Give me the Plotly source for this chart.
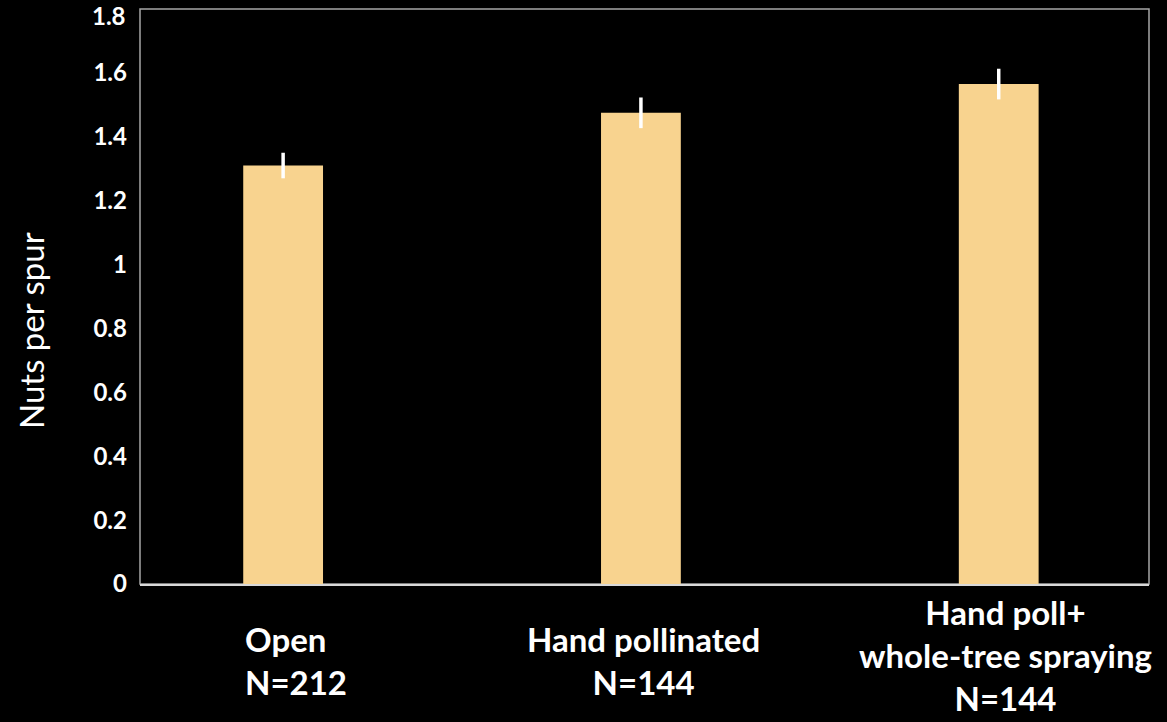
import plotly.graph_objects as go

# Nuts per spur by pollination treatment
categories = ["Open", "Hand pollinated", "Hand poll+ whole-tree spraying"]
label_lines = [
    ["Open", "N=212"],
    ["Hand pollinated", "N=144"],
    ["Hand poll+", "whole-tree spraying", "N=144"],
]
nuts_per_spur = [1.31, 1.475, 1.565]
std_error = [0.04, 0.048, 0.048]
y_ticks = [0, 0.2, 0.4, 0.6, 0.8, 1, 1.2, 1.4, 1.6, 1.8]
y_tick_text = ["0", "0.2", "0.4", "0.6", "0.8", "1", "1.2", "1.4", "1.6", "1.8"]

BAR_COLOR = "#F8D38F"
FONT = "Lato"
Y_MAX = y_ticks[-1]

fig = go.Figure(
    go.Bar(
        x=list(range(len(categories))),
        y=nuts_per_spur,
        width=0.223,
        marker=dict(color=BAR_COLOR, line=dict(width=0)),
        error_y=dict(type="data", array=std_error, visible=True,
                     color="white", thickness=3.5, width=0),
        hoverinfo="skip",
    )
)

# plot-area frame (grey), x axis line drawn brighter on top of it
fig.add_shape(type="rect", xref="paper", yref="paper", x0=0, y0=0, x1=1, y1=1,
              line=dict(color="#A6A6A6", width=1.5), layer="below")

# category labels under the bars
label_style = [
    dict(align="left", xshift=13, yshift=-76),
    dict(align="center", xshift=3, yshift=-76),
    dict(align="center", xshift=7, yshift=-71),
]
for i, (lines, st) in enumerate(zip(label_lines, label_style)):
    fig.add_annotation(
        x=i, xref="x", y=0, yref="paper",
        xshift=st["xshift"], yshift=st["yshift"],
        text="<br>".join(f"<b>{t}</b>" for t in lines),
        align=st["align"], showarrow=False,
        xanchor="center", yanchor="middle",
        font=dict(family=FONT, size=33, color="white"),
    )

# top tick label sits at the upper edge of the frame; nudge it inside the page
tick_font = dict(family=FONT, size=24, color="white")
fig.add_annotation(
    x=0, xref="paper", xshift=-12, xanchor="right",
    y=Y_MAX, yref="y", yshift=-6, yanchor="middle",
    text=f"<b>{y_tick_text[-1]}</b>", showarrow=False, font=tick_font,
)

# y-axis title
fig.add_annotation(
    text="Nuts per spur", textangle=-90, showarrow=False,
    xref="paper", x=0, xshift=-109, xanchor="center",
    yref="paper", y=0, yshift=253, yanchor="middle",
    font=dict(family=FONT, size=33, color="white"),
)

fig.update_layout(
    width=1167, height=722,
    paper_bgcolor="black", plot_bgcolor="black",
    margin=dict(l=140, r=18, t=9, b=138, autoexpand=False),
    showlegend=False,
    xaxis=dict(range=[-0.4, 2.42], showticklabels=False, showgrid=False,
               zeroline=False, showline=True, linecolor="#D9D9D9", linewidth=2,
               ticks="", automargin=False),
    yaxis=dict(range=[0, Y_MAX], tickvals=y_ticks[:-1],
               ticktext=[f"<b>{t}</b>" for t in y_tick_text[:-1]],
               showgrid=False, zeroline=False, showline=False, ticks="",
               ticklabelstandoff=12, automargin=False,
               tickfont=tick_font),
)

fig.write_html("out.html")
